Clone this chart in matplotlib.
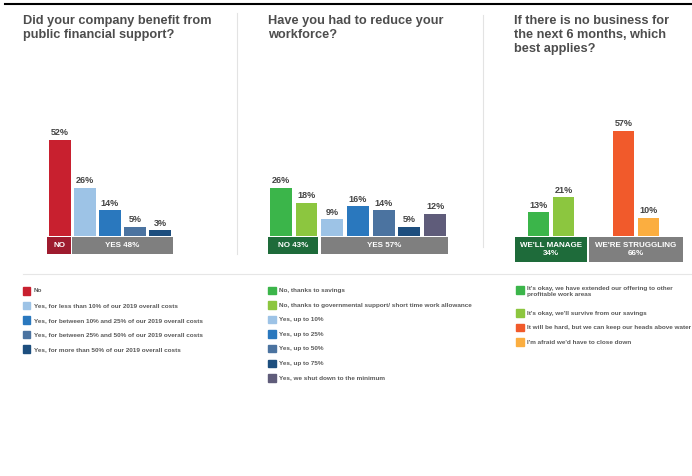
import matplotlib
matplotlib.use("Agg")
import matplotlib.pyplot as plt
from matplotlib.lines import Line2D
from matplotlib.patches import Rectangle

plt.rcParams["font.family"] = ["Liberation Sans", "DejaVu Sans"]

# --- survey results -------------------------------------------------------
support_titles = "Did your company benefit from\npublic financial support?"
support_values = [52, 26, 14, 5, 3]
support_groups = ["NO", "YES 48%"]
support_legend = [
    "No",
    "Yes, for less than 10% of our 2019 overall costs",
    "Yes, for between 10% and 25% of our 2019 overall costs",
    "Yes, for between 25% and 50% of our 2019 overall costs",
    "Yes, for more than 50% of our 2019 overall costs",
]

workforce_title = "Have you had to reduce your\nworkforce?"
workforce_values = [26, 18, 9, 16, 14, 5, 12]
workforce_groups = ["NO 43%", "YES 57%"]
workforce_legend = [
    "No, thanks to savings",
    "No, thanks to governmental support/ short time work allowance",
    "Yes, up to 10%",
    "Yes, up to 25%",
    "Yes, up to 50%",
    "Yes, up to 75%",
    "Yes, we shut down to the minimum",
]

outlook_title = "If there is no business for\nthe next 6 months, which\nbest applies?"
outlook_values = [13, 21, 57, 10]
outlook_groups = ["WE'LL MANAGE\n34%", "WE'RE STRUGGLING\n66%"]
outlook_legend = [
    "It's okay, we have extended our offering to other\nprofitable work areas",
    "It's okay, we'll survive from our savings",
    "It will be hard, but we can keep our heads above water",
    "I'm afraid we'd have to close down",
]

# --- colours --------------------------------------------------------------
support_colors = ["#C8202F", "#9DC3E6", "#2A78BE", "#4B73A0", "#1D4E7E"]
workforce_colors = ["#3BB54A", "#8CC63F", "#9DC3E6", "#2A78BE", "#4B73A0",
                    "#1D4E7E", "#5F5C7A"]
outlook_colors = ["#3BB54A", "#8CC63F", "#F15A2B", "#FBAE40"]
GREY_BAND = "#7F7F7F"
TITLE_C = "#4D4D4D"
LABEL_C = "#444444"
LEGEND_C = "#5A5A5A"

W, H = 692, 476
fig = plt.figure(figsize=(W / 100, H / 100), dpi=100)

PX_PER_PCT = 1.85
Y_LO, Y_HI = -15, 62


def fx(x):
    return x / W


def fy(y):
    return 1 - y / H


def panel_axes(x0, x1, units):
    base = 236 - Y_LO * PX_PER_PCT
    ax = fig.add_axes([fx(x0), fy(base), (x1 - x0) / W,
                       (Y_HI - Y_LO) * PX_PER_PCT / H])
    ax.set_xlim(0, units)
    ax.set_ylim(Y_LO, Y_HI)
    ax.axis("off")
    return ax


def draw_bars(ax, pos, values, colors, width):
    ax.bar(pos, values, width=width, color=colors)
    for x, v in zip(pos, values):
        ax.text(x, v + 1.3, f"{v}%", ha="center", va="bottom",
                fontsize=6.5, fontweight="bold", color=LABEL_C)


def draw_band(ax, x0, x1, label, color, depth=9.5):
    ax.bar((x0 + x1) / 2, -depth, width=x1 - x0, bottom=-0.35, color=color)
    ax.text((x0 + x1) / 2, -0.35 - depth / 2 - 0.2, label, ha="center",
            va="center", fontsize=5.8, fontweight="bold", color="white",
            linespacing=1.2)


def draw_legend(x, y0, labels, colors, step=14.6):
    y = y0
    for label, color in zip(labels, colors):
        fig.add_artist(Rectangle((fx(x), fy(y + 3.5)), 7.5 / W, 7.5 / H,
                                 transform=fig.transFigure, color=color))
        extra = label.count("\n")
        # wrapped entries hang from the square's top edge
        fig.text(fx(x + 11), fy(y - 3.8 if extra else y), label, ha="left",
                 va="top" if extra else "center", fontsize=4.6,
                 fontweight="bold", color=LEGEND_C, linespacing=1.25)
        y += step + 8.5 * extra


# panel 1: public support
ax1 = panel_axes(47, 173, 5)
pos1 = [i + 0.5 for i in range(len(support_values))]
draw_bars(ax1, pos1, support_values, support_colors, 0.88)
draw_band(ax1, 0, 0.96, support_groups[0], "#9E1B2E")
draw_band(ax1, 1.0, 5.0, support_groups[1], GREY_BAND)

# panel 2: workforce
ax2 = panel_axes(268, 448, 7)
pos2 = [i + 0.5 for i in range(len(workforce_values))]
draw_bars(ax2, pos2, workforce_values, workforce_colors, 0.85)
draw_band(ax2, 0, 1.95, workforce_groups[0], "#1E6B3A")
draw_band(ax2, 2.06, 7.0, workforce_groups[1], GREY_BAND)

# panel 3: outlook (taller bands, two-line captions)
ax3 = panel_axes(515, 683, 6.72)
pos3 = [0.94, 1.94, 4.34, 5.34]
draw_bars(ax3, pos3, outlook_values, outlook_colors, 0.86)
draw_band(ax3, 0, 2.88, outlook_groups[0], "#1E6B3A", depth=13.8)
draw_band(ax3, 2.96, 6.72, outlook_groups[1], GREY_BAND, depth=13.8)

# titles
for x, title in [(23, support_titles), (268, workforce_title), (514, outlook_title)]:
    fig.text(fx(x), fy(15), title, ha="left", va="top", fontsize=9.2,
             fontweight="bold", color=TITLE_C, linespacing=1.2)

# rules and separators
fig.add_artist(Line2D([fx(5), fx(692)], [fy(4), fy(4)], color="black", lw=1.5,
                      transform=fig.transFigure))
fig.add_artist(Line2D([fx(237), fx(237)], [fy(13), fy(254)], color="#E3E3E3",
                      lw=0.8, transform=fig.transFigure))
fig.add_artist(Line2D([fx(483), fx(483)], [fy(15), fy(247)], color="#E3E3E3",
                      lw=0.8, transform=fig.transFigure))
fig.add_artist(Line2D([fx(23), fx(692)], [fy(274), fy(274)], color="#E6E6E6",
                      lw=0.8, transform=fig.transFigure))

# legends
draw_legend(23, 291, support_legend, support_colors)
draw_legend(268, 290.5, workforce_legend, workforce_colors)
draw_legend(516, 290, outlook_legend, outlook_colors)

fig.savefig("out.png", dpi=100, facecolor="white")
